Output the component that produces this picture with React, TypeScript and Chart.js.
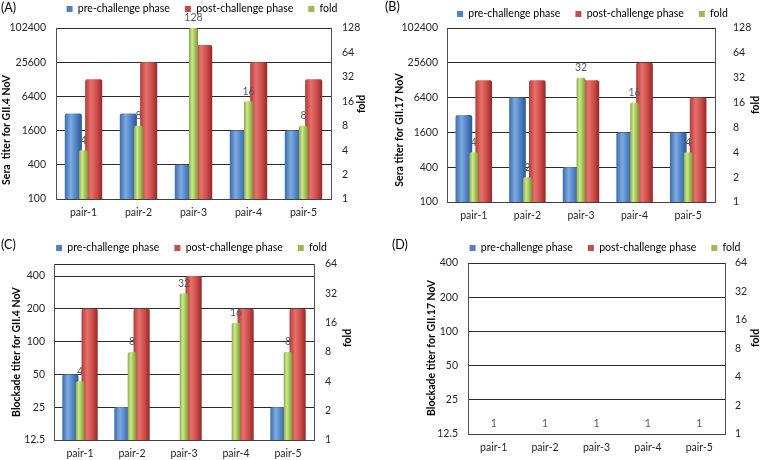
import React, { useEffect, useRef } from 'react';
import { Chart, registerables } from 'chart.js';

Chart.register(...registerables);

// ---------- data ----------
const categories = ['pair-1', 'pair-2', 'pair-3', 'pair-4', 'pair-5'];

// (A) Sera titer for GII.4 NoV
const preA = [3200, 3200, 400, 1600, 1600];
const postA = [12800, 25600, 51200, 25600, 12800];
const foldA = [4, 8, 128, 16, 8];

// (B) Sera titer for GII.17 NoV
const preB = [3200, 6400, 400, 1600, 1600];
const postB = [12800, 12800, 12800, 25600, 6400];
const foldB = [4, 2, 32, 16, 4];

// (C) Blockade titer for GII.4 NoV
const preC = [50, 25, 12.5, 12.5, 25];
const postC = [200, 200, 400, 200, 200];
const foldC = [4, 8, 32, 16, 8];

// (D) Blockade titer for GII.17 NoV
const preD = [12.5, 12.5, 12.5, 12.5, 12.5];
const postD = [12.5, 12.5, 12.5, 12.5, 12.5];
const foldD = [1, 1, 1, 1, 1];

const seraTicks = [100, 400, 1600, 6400, 25600, 102400];
const blockTicks = [12.5, 25, 50, 100, 200, 400];
const seraFoldTicks = [1, 2, 4, 8, 16, 32, 64, 128];
const blockFoldTicks = [1, 2, 4, 8, 16, 32, 64];
const blockMaxC = 516;

const seriesNames = ['pre-challenge phase', 'post-challenge phase', 'fold'];

// ---------- styling ----------
const W = 380;
const H = 230;
const FONT = 'Lato, "Open Sans", sans-serif';
const FS = 10.5;

const palette = {
  pre: { flat: '#4f81bd', stops: ['#3a6cae', '#7eaae0', '#4b7dc0', '#2a5893'] },
  post: { flat: '#c0504d', stops: ['#b23c39', '#e8706b', '#c94b47', '#932826'] },
  fold: { flat: '#9bbb59', stops: ['#88a943', '#cfe88c', '#9fc056', '#789637'] },
};

function barFill(p: { flat: string; stops: string[] }) {
  return (c: any) => {
    const el = c.element;
    if (!el || typeof el.x !== 'number' || !el.width || isNaN(el.x)) return p.flat;
    const g = c.chart.ctx.createLinearGradient(el.x - el.width / 2, 0, el.x + el.width / 2, 0);
    g.addColorStop(0, p.stops[0]);
    g.addColorStop(0.35, p.stops[1]);
    g.addColorStop(0.7, p.stops[2]);
    g.addColorStop(1, p.stops[3]);
    return g;
  };
}

type Cfg = {
  ox: number; oy: number;
  label: string; labelX: number; labelY: number;
  yTitle: string; yTitleX: number; yTitleY: number;
  foldTitleX: number; foldTitleY: number;
  area: { left: number; right: number; top: number; bottom: number };
  legendCX: number; legendCY: number;
  yPad: number; y1Pad: number;
  pre: number[]; post: number[]; fold: number[];
  yTicks: number[]; yMax: number; foldTicks: number[];
};

const panels: Cfg[] = [
  {
    ox: 0, oy: 0, label: '(A)', labelX: 1, labelY: 8,
    yTitle: 'Sera  titer for GII.4 NoV', yTitleX: 7, yTitleY: 130,
    foldTitleX: 362, foldTitleY: 104,
    area: { left: 56, right: 331, top: 28, bottom: 199 },
    legendCX: 202, legendCY: 9, yPad: 10, y1Pad: 11,
    pre: preA, post: postA, fold: foldA,
    yTicks: seraTicks, yMax: seraTicks[seraTicks.length - 1], foldTicks: seraFoldTicks,
  },
  {
    ox: 380, oy: 0, label: '(B)', labelX: 5, labelY: 7,
    yTitle: 'Sera titer for GII.17 NoV', yTitleX: 20, yTitleY: 130,
    foldTitleX: 376, foldTitleY: 105,
    area: { left: 67, right: 335, top: 28, bottom: 202 },
    legendCX: 212.5, legendCY: 14, yPad: 9, y1Pad: 18,
    pre: preB, post: postB, fold: foldB,
    yTicks: seraTicks, yMax: seraTicks[seraTicks.length - 1], foldTicks: seraFoldTicks,
  },
  {
    ox: 0, oy: 230, label: '(C)', labelX: 1, labelY: 15,
    yTitle: 'Blockade titer for GII.4 NoV', yTitleX: 17, yTitleY: 122,
    foldTitleX: 348, foldTitleY: 108,
    area: { left: 54, right: 314, top: 34, bottom: 210 },
    legendCX: 191.5, legendCY: 18, yPad: 9, y1Pad: 11,
    pre: preC, post: postC, fold: foldC,
    yTicks: blockTicks, yMax: blockMaxC, foldTicks: blockFoldTicks,
  },
  {
    ox: 380, oy: 230, label: '(D)', labelX: 12, labelY: 15,
    yTitle: 'Blockade titer for GII.17 NoV', yTitleX: 52, yTitleY: 118,
    foldTitleX: 376, foldTitleY: 108,
    area: { left: 88, right: 345, top: 33, bottom: 204 },
    legendCX: 225, legendCY: 18, yPad: 10, y1Pad: 10,
    pre: preD, post: postD, fold: foldD,
    yTicks: blockTicks, yMax: blockTicks[blockTicks.length - 1], foldTicks: blockFoldTicks,
  },
];

function makePlugin(cfg: Cfg) {
  return {
    id: 'deco',
    beforeLayout(chart: any) {
      const lg = chart.legend;
      if (lg && !lg.__fixed) {
        const orig = lg.fit;
        lg.fit = function () {
          orig.call(this);
          this.height = cfg.area.top;
        };
        lg.__fixed = true;
      }
    },
    afterLayout(chart: any) {
      const lg = chart.legend;
      if (!lg) return;
      const pad = lg.options.labels.padding;
      const dx = cfg.legendCX - (lg.left + lg.right) / 2;
      const dy = cfg.legendCY - (lg.top + pad + FS / 2);
      lg.left += dx; lg.right += dx;
      lg.top += dy; lg.bottom += dy;
    },
    afterDatasetsDraw(chart: any) {
      const ctx = chart.ctx;
      const meta = chart.getDatasetMeta(2);
      ctx.save();
      ctx.font = `${FS}px ${FONT}`;
      ctx.fillStyle = '#595959';
      ctx.textAlign = 'center';
      ctx.textBaseline = 'middle';
      meta.data.forEach((el: any, i: number) => {
        ctx.fillText(String(cfg.fold[i]), el.x, el.y - 10);
      });
      ctx.restore();
    },
    afterDraw(chart: any) {
      const ctx = chart.ctx;
      ctx.save();
      ctx.fillStyle = '#000';
      ctx.font = `12.5px ${FONT}`;
      ctx.textAlign = 'left';
      ctx.textBaseline = 'middle';
      ctx.fillText(cfg.label, cfg.labelX, cfg.labelY);

      ctx.font = `bold ${FS}px ${FONT}`;
      ctx.textAlign = 'center';
      ctx.save();
      ctx.translate(cfg.yTitleX, cfg.yTitleY);
      ctx.rotate(-Math.PI / 2);
      ctx.fillText(cfg.yTitle, 0, 0);
      ctx.restore();

      ctx.save();
      ctx.translate(cfg.foldTitleX, cfg.foldTitleY);
      ctx.rotate(-Math.PI / 2);
      ctx.fillText('fold', 0, 0);
      ctx.restore();
      ctx.restore();
    },
  };
}

function buildConfig(cfg: Cfg): any {
  const tickFont = { family: FONT, size: FS };
  const yTickValues = cfg.yTicks.includes(cfg.yMax) ? cfg.yTicks : [...cfg.yTicks, cfg.yMax];
  const foldMax = cfg.foldTicks[cfg.foldTicks.length - 1];
  const radius = { topLeft: 2, topRight: 2, bottomLeft: 0, bottomRight: 0 };
  return {
    type: 'bar',
    data: {
      labels: categories,
      datasets: [
        {
          label: seriesNames[0], data: cfg.pre, yAxisID: 'y', order: 1,
          backgroundColor: barFill(palette.pre), borderWidth: 0, borderRadius: radius,
          categoryPercentage: 0.74, barPercentage: 0.84,
        },
        {
          label: seriesNames[1], data: cfg.post, yAxisID: 'y', order: 1,
          backgroundColor: barFill(palette.post), borderWidth: 0, borderRadius: radius,
          categoryPercentage: 0.74, barPercentage: 0.84,
        },
        {
          label: seriesNames[2], data: cfg.fold, yAxisID: 'y1', order: 0,
          grouped: false,
          backgroundColor: barFill(palette.fold), borderWidth: 0, borderRadius: radius,
          categoryPercentage: 1, barPercentage: 0.165,
        },
      ],
    },
    options: {
      responsive: false,
      animation: false,
      devicePixelRatio: 1,
      events: [],
      layout: { padding: 0 },
      plugins: {
        tooltip: { enabled: false },
        title: { display: false },
        legend: {
          display: true,
          position: 'top',
          align: 'center',
          labels: {
            boxWidth: 6,
            boxHeight: 6,
            padding: 15,
            color: '#1a1a1a',
            font: { family: FONT, size: FS },
            generateLabels: (chart: any) =>
              [palette.pre, palette.post, palette.fold].map((p, i) => ({
                text: chart.data.datasets[i].label,
                fillStyle: p.flat,
                strokeStyle: p.flat,
                lineWidth: 0,
                hidden: false,
                datasetIndex: i,
              })),
          },
        },
      },
      scales: {
        x: {
          type: 'category',
          position: 'bottom',
          offset: true,
          grid: { display: false, drawTicks: false },
          border: { display: true, color: '#404040', width: 1 },
          ticks: { font: tickFont, color: '#262626', padding: 7, maxRotation: 0, autoSkip: false },
          afterFit: (s: any) => { s.height = H - cfg.area.bottom; },
        },
        y: {
          type: 'logarithmic',
          position: 'left',
          min: cfg.yTicks[0],
          max: cfg.yMax,
          grid: { color: '#2b2b2b', lineWidth: 1, drawTicks: false },
          border: { display: true, color: '#505050', width: 1 },
          ticks: {
            font: tickFont,
            color: '#262626',
            padding: cfg.yPad,
            autoSkip: false,
            callback: (v: any) => (cfg.yTicks.includes(Number(v)) ? String(v) : ''),
          },
          afterBuildTicks: (s: any) => { s.ticks = yTickValues.map((v) => ({ value: v })); },
          afterFit: (s: any) => { s.width = cfg.area.left; },
        },
        y1: {
          type: 'logarithmic',
          position: 'right',
          min: cfg.foldTicks[0],
          max: foldMax,
          grid: { display: false, drawTicks: false },
          border: { display: true, color: '#505050', width: 1 },
          ticks: {
            font: tickFont,
            color: '#262626',
            padding: cfg.y1Pad,
            autoSkip: false,
            callback: (v: any) => String(v),
          },
          afterBuildTicks: (s: any) => { s.ticks = cfg.foldTicks.map((v) => ({ value: v })); },
          afterFit: (s: any) => { s.width = W - cfg.area.right; },
        },
      },
    },
    plugins: [makePlugin(cfg)],
  };
}

function Panel({ cfg }: { cfg: Cfg }) {
  const ref = useRef<HTMLCanvasElement | null>(null);
  useEffect(() => {
    if (!ref.current) return;
    const chart = new Chart(ref.current, buildConfig(cfg));
    chart.update();
    return () => chart.destroy();
  }, [cfg]);
  return (
    <canvas
      ref={ref}
      width={W}
      height={H}
      style={{ position: 'absolute', left: cfg.ox, top: cfg.oy, width: W, height: H, display: 'block' }}
    />
  );
}

export default function App() {
  return (
    <div style={{ position: 'absolute', left: 0, top: 0, width: 760, height: 460, background: '#fff' }}>
      {panels.map((p) => (
        <Panel key={p.label} cfg={p} />
      ))}
    </div>
  );
}
